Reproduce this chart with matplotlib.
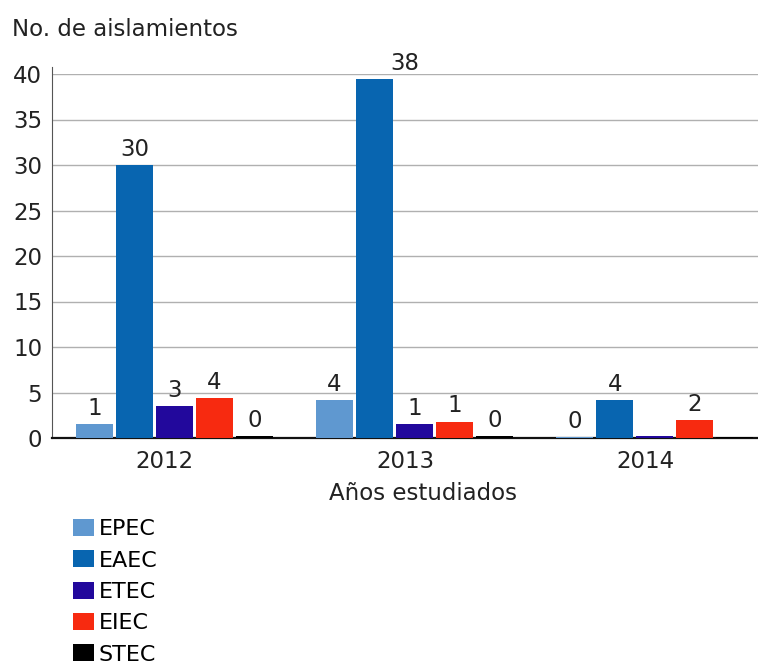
import matplotlib
matplotlib.use("Agg")
import matplotlib.pyplot as plt
import numpy as np

years = ['2012', '2013', '2014']
groups = ['EPEC', 'EAEC', 'ETEC', 'EIEC', 'STEC']
colors = ['#5f98d0', '#0865b0', '#22089c', '#f72a10', '#000000']

# bar heights as drawn in the picture (one list per group, one value per year)
epec = [1.5, 4.2, 0.1]
eaec = [30.0, 39.4, 4.2]
etec = [3.5, 1.5, 0.2]
eiec = [4.4, 1.8, 2.0]
stec = [0.2, 0.2, 0.1]

# value labels shown above the bars
epec_lbl = ['1', '4', '0']
eaec_lbl = ['30', '38', '4']
etec_lbl = ['3', '1', '']
eiec_lbl = ['4', '1', '2']
stec_lbl = ['0', '0', '']

heights = [epec, eaec, etec, eiec, stec]
labels = [epec_lbl, eaec_lbl, etec_lbl, eiec_lbl, stec_lbl]

fs = 16.5

fig = plt.figure(figsize=(7.58, 6.64), dpi=100)
ax = fig.add_axes([52 / 758, 1 - 438 / 664, 1 - 52 / 758, (438 - 74) / 664])

x = np.arange(len(years))
pitch = 1 / 6
width = 0.154
for i, name in enumerate(groups):
    pos = x + (i - 2) * pitch
    bars = ax.bar(pos, heights[i], width, color=colors[i], label=name, zorder=3)
    for j, b in enumerate(bars):
        txt = labels[i][j]
        if not txt:
            continue
        dx = 30 if (name == 'EAEC' and years[j] == '2013') else 0
        ax.annotate(txt, (b.get_x() + b.get_width() / 2, b.get_height()),
                    xytext=(dx * 0.72, 3), textcoords='offset points',
                    ha='center', va='bottom', fontsize=fs, color='#222222')

ax.set_ylim(0, 40)
ax.set_xlim(-0.51, 2.43)
ax.set_yticks(np.arange(0, 41, 5))
ax.set_xticks(x - 0.04)
ax.set_xticklabels(years)
ax.tick_params(axis='both', length=0, labelsize=fs, colors='#222222')
ax.tick_params(axis='y', pad=7)
ax.tick_params(axis='x', pad=9)
ax.grid(axis='y', color='#b0b0b0', linewidth=1, zorder=0)
ax.set_axisbelow(True)
for s in ['top', 'right']:
    ax.spines[s].set_visible(False)
ax.spines['left'].set_color('#555555')
ax.spines['left'].set_bounds(0, 40.8)
ax.spines['bottom'].set_color('#111111')
ax.spines['bottom'].set_linewidth(1.6)

fig.text(12 / 758, 1 - 29 / 664, 'No. de aislamientos', fontsize=fs,
         ha='left', va='center', color='#222222')
fig.text(423 / 758, 1 - 494 / 664, 'Años estudiados', fontsize=fs,
         ha='center', va='center', color='#222222')

fig.legend(loc='upper left', bbox_to_anchor=(73 / 758, 1 - 519 / 664),
           frameon=False, fontsize=16, handlelength=0.95, handleheight=0.8,
           handletextpad=0.2, labelspacing=0.5, borderpad=0, borderaxespad=0)

fig.savefig('out.png', dpi=100)
